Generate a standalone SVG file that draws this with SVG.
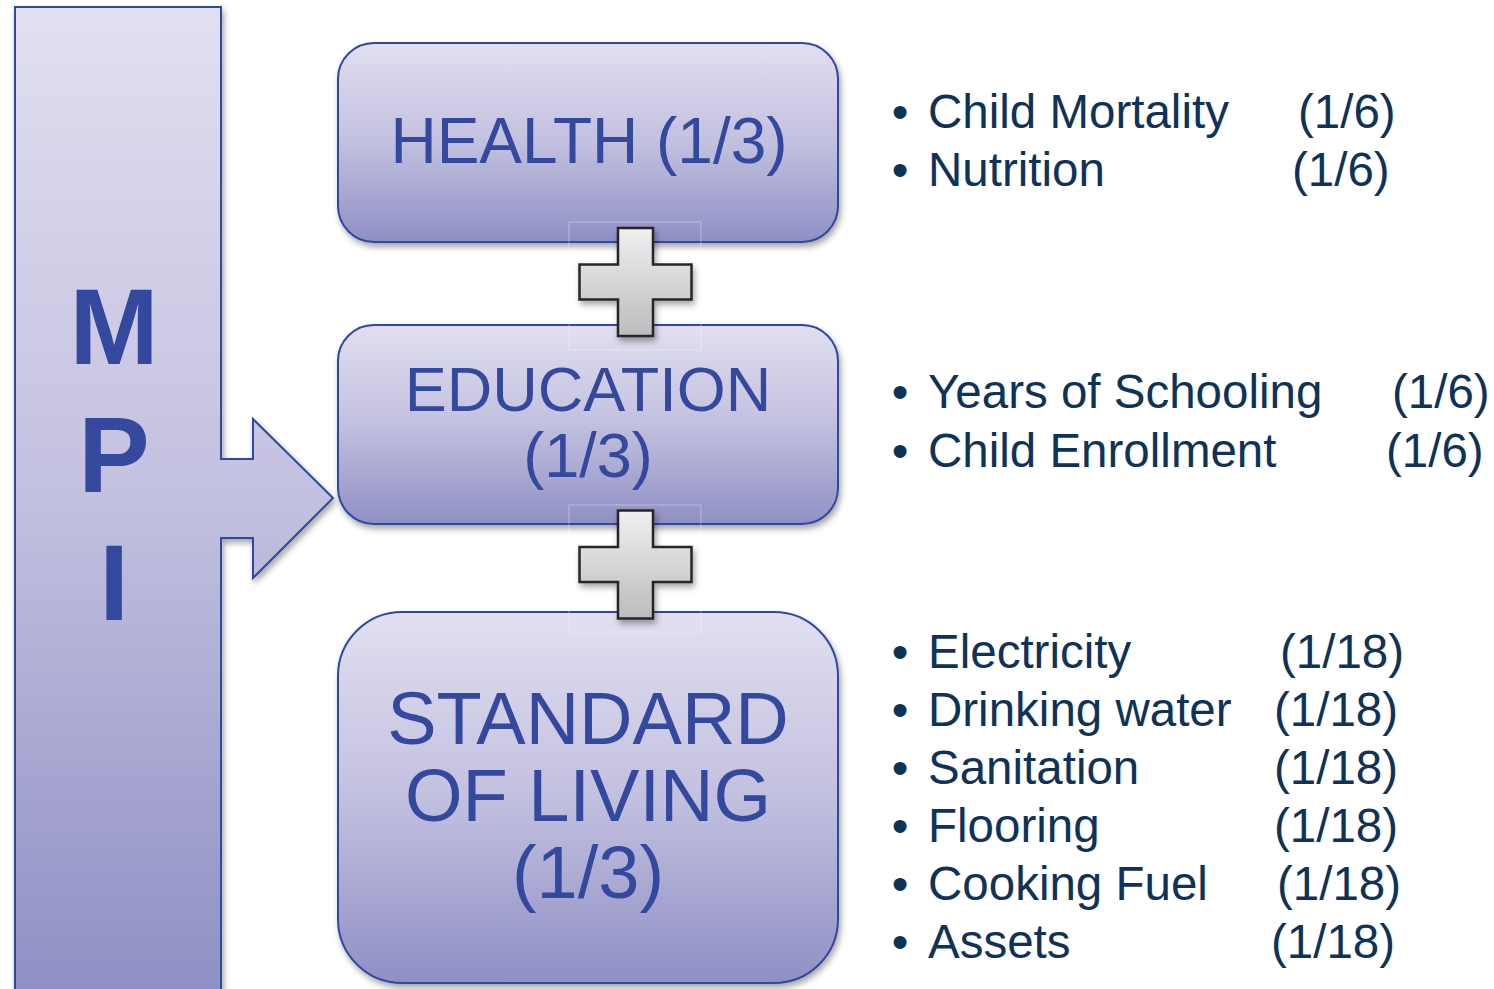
<svg xmlns="http://www.w3.org/2000/svg" width="1494" height="989" viewBox="0 0 1494 989">
  <style>
    .box { stroke: #2f49a0; stroke-width: 2; filter: url(#shadow); }
    .node-label { font-family: "Liberation Sans", Arial, sans-serif; fill: #34489e; text-anchor: middle; }
    .mpi-letter { font-family: "Liberation Sans", Arial, sans-serif; font-weight: bold; font-size: 107px; fill: #34489e; text-anchor: middle; }
    .item { font-family: "Liberation Sans", Arial, sans-serif; font-size: 47.5px; fill: #0f3259; }
    .bullet { text-anchor: middle; }
    .plus { fill: url(#plusFill); stroke: #262626; stroke-width: 2.5; filter: url(#shadow); }
    .plus-frame { fill: none; stroke: #ffffff; stroke-opacity: 0.35; stroke-width: 1; }
  </style>
  <defs>
    <linearGradient id="lavender" x1="0" y1="0" x2="0" y2="1">
      <stop offset="0" stop-color="#e1dff0"/>
      <stop offset="0.5" stop-color="#c2c0df"/>
      <stop offset="1" stop-color="#8f8fc5"/>
    </linearGradient>
    <linearGradient id="plusFill" x1="0" y1="0" x2="0" y2="1">
      <stop offset="0" stop-color="#f0f0f1"/>
      <stop offset="1" stop-color="#bcbcbf"/>
    </linearGradient>
    <filter id="shadow" x="-10%" y="-10%" width="125%" height="125%">
      <feDropShadow dx="2" dy="4" stdDeviation="3" flood-color="#000000" flood-opacity="0.35"/>
    </filter>
    <path id="plusShape" d="M-17.5,-54 H17.5 V-17.5 H56 V17.5 H17.5 V54 H-17.5 V17.5 H-56 V-17.5 H-17.5 Z"/>
  </defs>

  <!-- MPI column with the arrow pointing at the dimensions -->
  <g id="mpi">
    <path class="box" fill="url(#lavender)" d="M15,7 H221 V459 H253 V419 L333,498 L253,578 V538 H221 V995 H15 Z"/>
    <text class="mpi-letter" x="114" y="364">M</text>
    <text class="mpi-letter" x="114" y="492">P</text>
    <text class="mpi-letter" x="114" y="620">I</text>
  </g>

  <!-- Dimension boxes -->
  <g id="health">
    <rect class="box" fill="url(#lavender)" x="338" y="43" width="500" height="199" rx="36" ry="36"/>
    <text class="node-label" x="589" y="163" font-size="64">HEALTH (1/3)</text>
  </g>

  <g id="education">
    <rect class="box" fill="url(#lavender)" x="338" y="325" width="500" height="199" rx="36" ry="36"/>
    <text class="node-label" x="588" y="411" font-size="63">EDUCATION</text>
    <text class="node-label" x="588" y="477" font-size="63">(1/3)</text>
  </g>

  <g id="standard-of-living">
    <rect class="box" fill="url(#lavender)" x="338" y="612" width="500" height="371" rx="64" ry="64"/>
    <text class="node-label" x="588" y="744" font-size="74">STANDARD</text>
    <text class="node-label" x="588" y="821" font-size="74">OF LIVING</text>
    <text class="node-label" x="588" y="898" font-size="74">(1/3)</text>
  </g>

  <!-- Plus signs joining the dimensions -->
  <g id="connectors">
    <rect class="plus-frame" x="569" y="222" width="132" height="128"/>
    <use href="#plusShape" class="plus" transform="translate(635.5,282)"/>
    <rect class="plus-frame" x="569" y="505" width="132" height="127"/>
    <use href="#plusShape" class="plus" transform="translate(635.5,564.5)"/>
  </g>

  <!-- Indicator lists -->
  <g id="health-indicators" class="item">
    <text class="bullet" x="900" y="128">•</text>
    <text x="928" y="128">Child Mortality</text>
    <text x="1298" y="128">(1/6)</text>
    <text class="bullet" x="900" y="186">•</text>
    <text x="928" y="186">Nutrition</text>
    <text x="1292" y="186">(1/6)</text>
  </g>

  <g id="education-indicators" class="item">
    <text class="bullet" x="900" y="408">•</text>
    <text x="928" y="408">Years of Schooling</text>
    <text x="1392" y="408">(1/6)</text>
    <text class="bullet" x="900" y="467">•</text>
    <text x="928" y="467">Child Enrollment</text>
    <text x="1386" y="467">(1/6)</text>
  </g>

  <g id="living-indicators" class="item">
    <text class="bullet" x="900" y="668">•</text>
    <text x="928" y="668">Electricity</text>
    <text x="1280" y="668">(1/18)</text>
    <text class="bullet" x="900" y="726">•</text>
    <text x="928" y="726">Drinking water</text>
    <text x="1274" y="726">(1/18)</text>
    <text class="bullet" x="900" y="784">•</text>
    <text x="928" y="784">Sanitation</text>
    <text x="1274" y="784">(1/18)</text>
    <text class="bullet" x="900" y="842">•</text>
    <text x="928" y="842">Flooring</text>
    <text x="1274" y="842">(1/18)</text>
    <text class="bullet" x="900" y="900">•</text>
    <text x="928" y="900">Cooking Fuel</text>
    <text x="1277" y="900">(1/18)</text>
    <text class="bullet" x="900" y="958">•</text>
    <text x="928" y="958">Assets</text>
    <text x="1271" y="958">(1/18)</text>
  </g>
</svg>
